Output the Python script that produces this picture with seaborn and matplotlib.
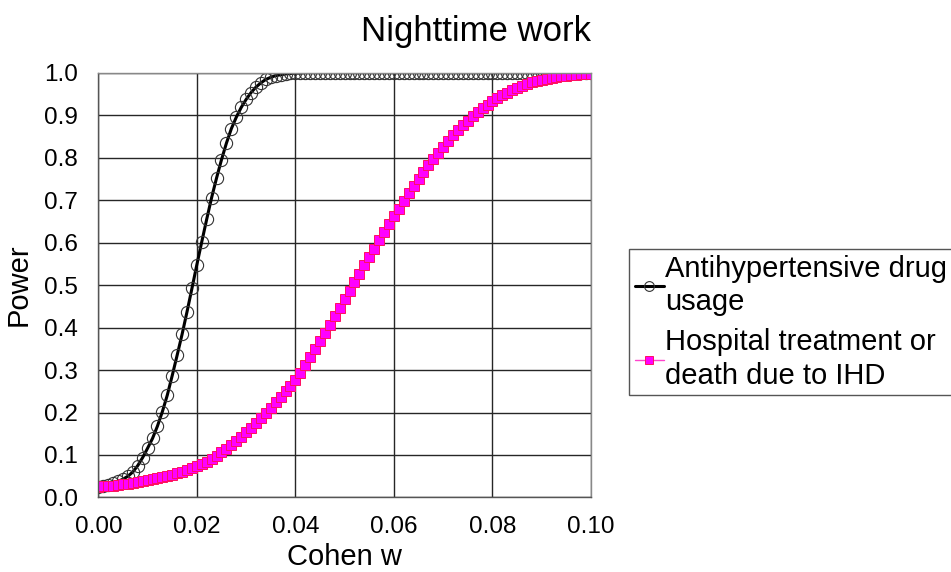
import matplotlib
matplotlib.use("Agg")
from matplotlib import pyplot as plt
import seaborn as sns
import pandas as pd

# Cohen w, one point every 0.001
cohen_w = [round(i * 0.001, 3) for i in range(101)]

antihypertensive = [
    0.025, 0.027, 0.030, 0.033, 0.038, 0.043, 0.050, 0.060, 0.075, 0.094,
    0.116, 0.139, 0.168, 0.202, 0.241, 0.287, 0.335, 0.384, 0.437, 0.492,
    0.548, 0.602, 0.655, 0.706, 0.752, 0.795, 0.834, 0.868, 0.895, 0.918,
    0.937, 0.953, 0.966, 0.976, 0.984, 0.989, 0.993, 0.995, 0.997, 0.998,
    0.999, 0.999, 1.000, 1.000, 1.000, 1.000, 1.000, 1.000, 1.000, 1.000,
    1.000, 1.000, 1.000, 1.000, 1.000, 1.000, 1.000, 1.000, 1.000, 1.000,
    1.000, 1.000, 1.000, 1.000, 1.000, 1.000, 1.000, 1.000, 1.000, 1.000,
    1.000, 1.000, 1.000, 1.000, 1.000, 1.000, 1.000, 1.000, 1.000, 1.000,
    1.000, 1.000, 1.000, 1.000, 1.000, 1.000, 1.000, 1.000, 1.000, 1.000,
    1.000, 1.000, 1.000, 1.000, 1.000, 1.000, 1.000, 1.000, 1.000, 1.000,
    1.000,
]

hospital_ihd = [
    0.025, 0.026, 0.027, 0.028, 0.029, 0.031, 0.032, 0.034, 0.036, 0.038,
    0.040, 0.043, 0.045, 0.048, 0.051, 0.054, 0.057, 0.061, 0.065, 0.069,
    0.073, 0.078, 0.084, 0.091, 0.098, 0.106, 0.115, 0.124, 0.133, 0.143,
    0.153, 0.164, 0.175, 0.187, 0.199, 0.211, 0.224, 0.237, 0.250, 0.263,
    0.276, 0.293, 0.311, 0.330, 0.349, 0.368, 0.387, 0.407, 0.427, 0.447,
    0.467, 0.487, 0.507, 0.527, 0.547, 0.566, 0.586, 0.605, 0.624, 0.643,
    0.662, 0.680, 0.698, 0.716, 0.733, 0.750, 0.766, 0.782, 0.797, 0.812,
    0.826, 0.840, 0.853, 0.865, 0.876, 0.887, 0.898, 0.908, 0.917, 0.925,
    0.933, 0.940, 0.947, 0.953, 0.959, 0.964, 0.969, 0.973, 0.977, 0.980,
    0.983, 0.986, 0.988, 0.990, 0.992, 0.993, 0.994, 0.995, 0.996, 0.997,
    0.997,
]

series_names = ["Antihypertensive drug\nusage", "Hospital treatment or\ndeath due to IHD"]
x_ticks = [0.00, 0.02, 0.04, 0.06, 0.08, 0.10]
y_ticks = [0.0, 0.1, 0.2, 0.3, 0.4, 0.5, 0.6, 0.7, 0.8, 0.9, 1.0]

df = pd.DataFrame({"w": cohen_w, "drug": antihypertensive, "ihd": hospital_ihd})

sns.set_style("white")
plt.rcParams["font.family"] = ["Liberation Sans", "DejaVu Sans"]
plt.rcParams["text.color"] = "black"
plt.rcParams["axes.labelcolor"] = "black"

fig = plt.figure(figsize=(9.51, 5.72), dpi=100)
ax = fig.add_axes([0.1034, 0.1303, 0.5180, 0.7427])

sns.lineplot(data=df, x="w", y="drug", ax=ax, color="black", linewidth=2.2,
             marker="o", markersize=8.8, markerfacecolor="none",
             markeredgecolor="#333333", markeredgewidth=0.8,
             label=series_names[0])
sns.lineplot(data=df, x="w", y="ihd", ax=ax, color="#FF44CC", linewidth=1.0,
             marker="s", markersize=7.2, markerfacecolor="#FF00FF",
             markeredgecolor="#FF1060", markeredgewidth=0.7,
             label=series_names[1])

ax.set_xlim(0, 0.1)
ax.set_ylim(0, 1.0)
ax.set_xticks(x_ticks)
ax.set_yticks(y_ticks)
ax.set_xticklabels([f"{t:.2f}" for t in x_ticks])
ax.set_yticklabels([f"{t:.1f}" for t in y_ticks])
ax.tick_params(axis="both", length=0, labelsize=17.5, colors="black")
ax.tick_params(axis="x", pad=13)
ax.tick_params(axis="y", pad=15)
ax.grid(True, color="#262626", linewidth=1.0)
ax.set_axisbelow(True)
for side in ["top", "right"]:
    ax.spines[side].set_color("#888888")
for side in ["left", "bottom"]:
    ax.spines[side].set_color("#555555")
for s in ax.spines.values():
    s.set_linewidth(1.0)

ax.set_xlabel("Cohen w", fontsize=21, labelpad=4)
ax.set_ylabel("Power", fontsize=21, labelpad=8)

fig.text(476 / 951, 1 - 32 / 572, "Nighttime work", fontsize=25,
         ha="center", va="center")

handles, labels = ax.get_legend_handles_labels()
ax.get_legend().remove()
leg = fig.legend(handles, labels, loc="upper left",
                 bbox_to_anchor=(629 / 951, 1 - 249 / 572),
                 fontsize=21, frameon=True, fancybox=False, framealpha=1,
                 edgecolor="#555555", borderpad=0.2, labelspacing=0.4,
                 handlelength=1.0, handletextpad=0.05, borderaxespad=0,
                 markerscale=0.8)
leg.get_frame().set_linewidth(1.0)
for t in leg.get_texts():
    t.set_linespacing(1.25)

fig.savefig("out.png", dpi=100)
